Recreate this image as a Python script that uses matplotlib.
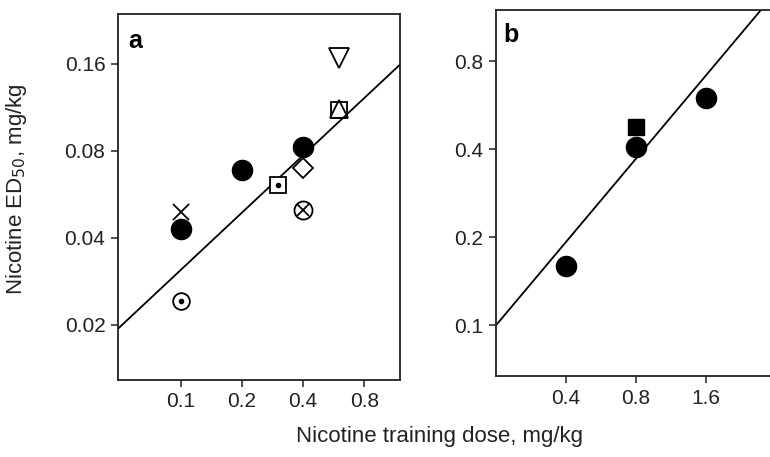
import matplotlib
matplotlib.use('Agg')
import matplotlib.pyplot as plt
import numpy as np
from matplotlib.ticker import FixedLocator, NullLocator, FixedFormatter

plt.rcParams['font.family'] = ['Liberation Sans', 'DejaVu Sans']

# panel a: training dose vs ED50, one marker style per data set
a_x = [0.1, 0.1, 0.1, 0.2, 0.3, 0.4, 0.4, 0.4, 0.6, 0.6, 0.6]
a_y = [0.043, 0.049, 0.0242, 0.0687, 0.061, 0.0825, 0.070, 0.050, 0.111, 0.112, 0.168]
a_kind = ['filled', 'x', 'circdot', 'filled', 'sqdot', 'filled', 'diamond',
          'circx', 'square', 'triup', 'tridown']
# regression line for panel a (endpoints)
a_fit_x = [0.049, 1.2]
a_fit_y = [0.0194, 0.159]

# panel b
b_x = [0.4, 0.8, 1.6]
b_y = [0.159, 0.406, 0.598]
b_sq_x = [0.8]
b_sq_y = [0.479]
b_fit_x = [0.2, 2.76]
b_fit_y = [0.1, 1.2]

a_xticks = [0.1, 0.2, 0.4, 0.8]
a_yticks = [0.02, 0.04, 0.08, 0.16]
b_xticks = [0.4, 0.8, 1.6]
b_yticks = [0.1, 0.2, 0.4, 0.8]

fig = plt.figure(figsize=(7.7, 4.57), dpi=100)
ax1 = fig.add_axes([0.1532, 0.1685, 0.3662, 0.8009])
ax2 = fig.add_axes([0.6442, 0.1772, 0.3558, 0.8009])

k = 'black'
lw = 1.3
for x, y, kind in zip(a_x, a_y, a_kind):
    if kind == 'filled':
        ax1.plot(x, y, 'o', ms=14.5, color=k, zorder=3)
    elif kind == 'x':
        ax1.plot(x, y, 'x', ms=12, mew=lw, color=k, zorder=3)
    elif kind == 'circdot':
        ax1.plot(x, y, 'o', ms=12, mfc='white', mec=k, mew=lw, zorder=3)
        ax1.plot(x, y, 'o', ms=3, color=k, zorder=4)
    elif kind == 'sqdot':
        ax1.plot(x, y, 's', ms=11.5, mfc='white', mec=k, mew=lw, zorder=3)
        ax1.plot(x, y, 'o', ms=3, color=k, zorder=4)
    elif kind == 'diamond':
        ax1.plot(x, y, 'D', ms=10, mfc='white', mec=k, mew=lw, zorder=3)
    elif kind == 'circx':
        ax1.plot(x, y, 'o', ms=13, mfc='white', mec=k, mew=lw, zorder=3)
        ax1.plot(x, y, 'x', ms=9, mew=lw, color=k, zorder=4)
    elif kind == 'square':
        ax1.plot(x, y, 's', ms=11.5, mfc='none', mec=k, mew=lw, zorder=3)
    elif kind == 'triup':
        ax1.plot(x, y, '^', ms=13, mfc='none', mec=k, mew=lw, zorder=4)
    elif kind == 'tridown':
        ax1.plot(x, y, 'v', ms=14, mfc='white', mec=k, mew=lw, zorder=3)
ax1.plot(a_fit_x, a_fit_y, '-', color=k, lw=lw, zorder=2)

ax2.plot(b_x, b_y, 'o', ms=14.5, color=k, zorder=3)
ax2.plot(b_sq_x, b_sq_y, 's', ms=12, color=k, zorder=2)
ax2.plot(b_fit_x, b_fit_y, '-', color=k, lw=lw, zorder=2)

ax1.set_xscale('log')
ax1.set_yscale('log')
ax1.set_xlim(0.049, 1.2)
ax1.set_ylim(0.0129, 0.238)
ax2.set_xscale('log')
ax2.set_yscale('log')
ax2.set_xlim(0.2, 3.02)
ax2.set_ylim(0.067, 1.2)
ax2.spines['right'].set_visible(False)

for ax, xt, yt in [(ax1, a_xticks, a_yticks), (ax2, b_xticks, b_yticks)]:
    ax.xaxis.set_major_locator(FixedLocator(xt))
    ax.xaxis.set_major_formatter(FixedFormatter([str(v) for v in xt]))
    ax.yaxis.set_major_locator(FixedLocator(yt))
    ax.yaxis.set_major_formatter(FixedFormatter([str(v) for v in yt]))
    ax.xaxis.set_minor_locator(NullLocator())
    ax.yaxis.set_minor_locator(NullLocator())
    ax.tick_params(direction='out', length=5, width=1.1, labelsize=15,
                   pad=4, color='#222222', labelcolor='#222222')
    for s in ax.spines.values():
        s.set_linewidth(1.3)
        s.set_color('#222222')

ax1.text(0.035, 0.96, 'a', transform=ax1.transAxes, fontsize=18,
         fontweight='bold', va='top', ha='left')
ax2.text(0.025, 0.965, 'b', transform=ax2.transAxes, fontsize=18,
         fontweight='bold', va='top', ha='left')

fig.text(0.021, 0.585, 'Nicotine ED$_{50}$, mg/kg', rotation=90, fontsize=16,
         ha='center', va='center', color='#222222')
fig.text(0.571, 0.044, 'Nicotine training dose, mg/kg', fontsize=16,
         ha='center', va='center', color='#222222')

fig.savefig('out.png', dpi=100)
